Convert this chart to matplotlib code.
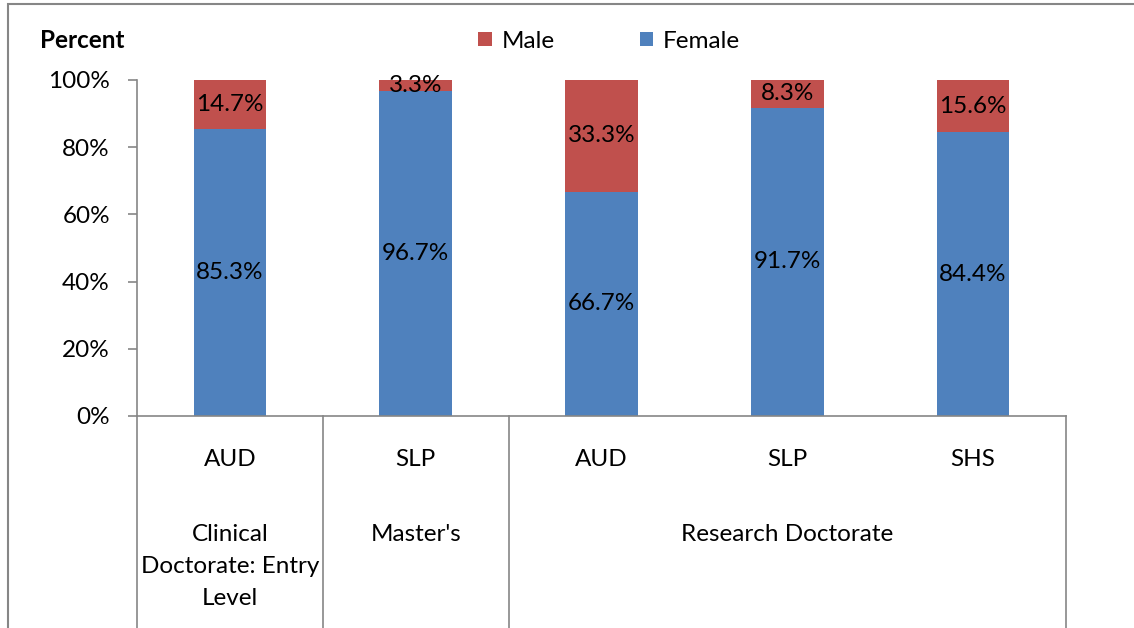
import matplotlib
matplotlib.use('Agg')
import matplotlib.pyplot as plt
from matplotlib.patches import Rectangle
from matplotlib.lines import Line2D
import matplotlib.transforms as mtransforms

programs = ['AUD', 'SLP', 'AUD', 'SLP', 'SHS']
groups = ['Clinical\nDoctorate: Entry\nLevel', "Master's", 'Research Doctorate']
group_spans = [(0, 0), (1, 1), (2, 4)]
female = [85.3, 96.7, 66.7, 91.7, 84.4]
male = [14.7, 3.3, 33.3, 8.3, 15.6]

BLUE = '#4F81BD'
RED = '#C0504D'
GREY = '#868686'
W, H = 1134, 628
FS = 17.5

plt.rcParams['font.family'] = ['Lato', 'DejaVu Sans']
plt.rcParams['font.size'] = FS

fig = plt.figure(figsize=(W / 100, H / 100), dpi=100)
ax = fig.add_axes([137 / W, (H - 416) / H, (1066 - 137) / W, 336 / H])

x = list(range(len(programs)))
fb = ax.bar(x, female, width=0.39, color=BLUE, label='Female', zorder=2)
mb = ax.bar(x, male, bottom=female, width=0.39, color=RED, label='Male', zorder=2)

for i in x:
    ax.text(i, female[i] / 2, '{:.1f}%'.format(female[i]), ha='center', va='center')
    ax.text(i, female[i] + male[i] / 2, '{:.1f}%'.format(male[i]), ha='center', va='center')

ax.set_xlim(-0.5, len(programs) - 0.5)
ax.set_ylim(0, 100)
ax.set_yticks([0, 20, 40, 60, 80, 100])
ax.set_yticklabels(['{}%'.format(v) for v in [0, 20, 40, 60, 80, 100]])
ax.set_xticks([])
for s in ['top', 'right']:
    ax.spines[s].set_visible(False)
for s in ['left', 'bottom']:
    ax.spines[s].set_color(GREY)
    ax.spines[s].set_linewidth(1.2)
ax.tick_params(axis='y', length=6.5, color=GREY, width=1.2, pad=13, labelsize=FS)

# two-level category axis drawn below the plot
trans = mtransforms.blended_transform_factory(ax.transData, fig.transFigure)
bounds = [-0.5, 0.5, 1.5, 4.5]
for b in bounds:
    ax.add_line(Line2D([b, b], [0, (H - 416) / H], transform=trans, color=GREY,
                       lw=1.2, clip_on=False))
for i, p in enumerate(programs):
    ax.text(i, 1 - 460 / H, p, transform=trans, ha='center', va='center')
for g, (a, b) in zip(groups, group_spans):
    ax.text((a + b) / 2, 1 - 524 / H, g, transform=trans, ha='center', va='top',
            linespacing=1.66)

fig.text(40 / W, 1 - 41 / H, 'Percent', fontweight='bold', va='center')

fig.legend(handles=[mb, fb], labels=['Male', 'Female'], loc='center', ncol=2,
           bbox_to_anchor=(609 / W, 1 - 41 / H), frameon=False,
           handlelength=0.55, handleheight=0.55, handletextpad=0.4, columnspacing=3.5)

fig.patches.append(Rectangle((8 / W, -0.1), 1.2, (1 - 4 / H) + 0.1, transform=fig.transFigure,
                             fill=False, edgecolor=GREY, lw=1.5))

fig.savefig('out.png', dpi=100)
